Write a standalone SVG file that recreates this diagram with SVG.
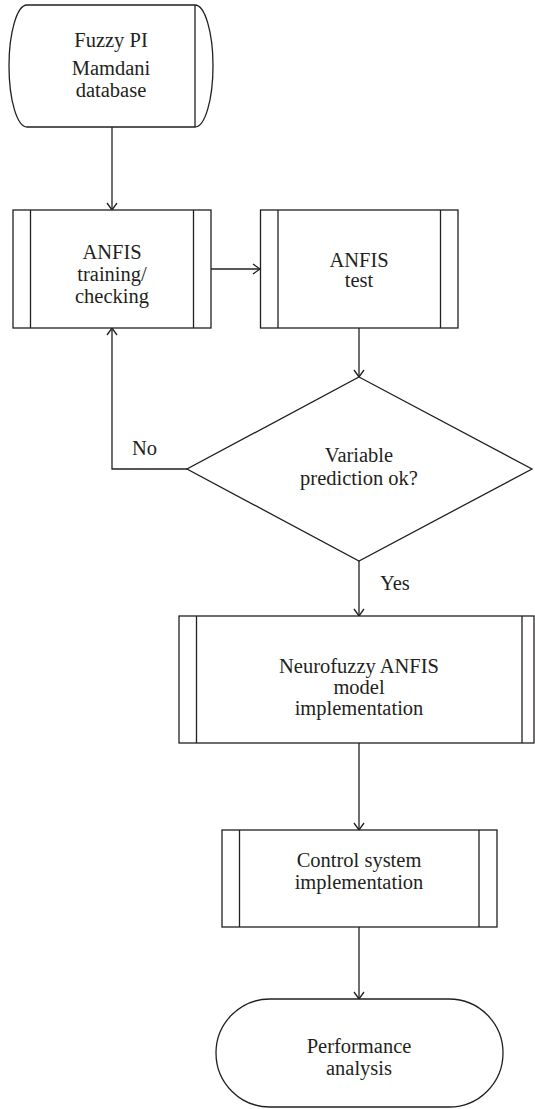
<svg xmlns="http://www.w3.org/2000/svg" width="535" height="1109" viewBox="0 0 535 1109">
<defs>
<style>
.s{fill:#fff;stroke:#231f20;stroke-width:1.3}
.l{fill:none;stroke:#231f20;stroke-width:1.3}
.t{font-family:"Liberation Serif","Times New Roman",serif;font-size:20.5px;fill:#231f20;text-anchor:middle}
.lb{font-family:"Liberation Serif","Times New Roman",serif;font-size:20.5px;fill:#231f20}
</style>
<marker id="arr" viewBox="0 0 10 12" refX="9" refY="6" markerWidth="10" markerHeight="12" markerUnits="userSpaceOnUse" orient="auto">
<path d="M2,1 L9,6 L2,11" fill="none" stroke="#231f20" stroke-width="1.3"/>
</marker>
</defs>
<rect width="535" height="1109" fill="#fff"/>
<g id="connectors">
<line class="l" x1="112" y1="127" x2="112" y2="210" marker-end="url(#arr)"/>
<line class="l" x1="211" y1="269" x2="260" y2="269" marker-end="url(#arr)"/>
<line class="l" x1="359" y1="328" x2="359" y2="377" marker-end="url(#arr)"/>
<polyline class="l" points="187,469 112,469 112,328" marker-end="url(#arr)"/>
<text class="lb" x="132" y="455">No</text>
<line class="l" x1="359" y1="561" x2="359" y2="616" marker-end="url(#arr)"/>
<text class="lb" x="380" y="590">Yes</text>
<line class="l" x1="359" y1="743" x2="359" y2="830" marker-end="url(#arr)"/>
<line class="l" x1="359" y1="927" x2="359" y2="999" marker-end="url(#arr)"/>
</g>
<g id="database">
<path class="s" d="M27,5 L195,5 A18,61 0 0 1 195,127 L27,127 A18,61 0 0 1 27,5 Z"/>
<line class="l" x1="195" y1="5" x2="195" y2="127"/>
<text class="t" x="111" y="47">Fuzzy PI</text>
<text class="t" x="111" y="75">Mamdani</text>
<text class="t" x="111" y="97">database</text>
</g>
<g id="training">
<rect class="s" x="13" y="210" width="198" height="118"/>
<line class="l" x1="30.5" y1="210" x2="30.5" y2="328"/>
<line class="l" x1="193.5" y1="210" x2="193.5" y2="328"/>
<text class="t" x="112" y="259">ANFIS</text>
<text class="t" x="112" y="281">training/</text>
<text class="t" x="112" y="303">checking</text>
</g>
<g id="test">
<rect class="s" x="260.5" y="210" width="197.5" height="118"/>
<line class="l" x1="278" y1="210" x2="278" y2="328"/>
<line class="l" x1="440.5" y1="210" x2="440.5" y2="328"/>
<text class="t" x="359" y="267">ANFIS</text>
<text class="t" x="359" y="287">test</text>
</g>
<g id="decision">
<polygon class="s" points="359,377 532,469 359,561 187,469"/>
<text class="t" x="359" y="462">Variable</text>
<text class="t" x="359" y="485">prediction ok?</text>
</g>
<g id="neurofuzzy">
<rect class="s" x="179" y="616" width="355" height="127"/>
<line class="l" x1="196.5" y1="616" x2="196.5" y2="743"/>
<line class="l" x1="522" y1="616" x2="522" y2="743"/>
<text class="t" x="359" y="673">Neurofuzzy ANFIS</text>
<text class="t" x="359" y="694">model</text>
<text class="t" x="359" y="715">implementation</text>
</g>
<g id="control">
<rect class="s" x="222" y="830" width="275" height="97"/>
<line class="l" x1="239.5" y1="830" x2="239.5" y2="927"/>
<line class="l" x1="479" y1="830" x2="479" y2="927"/>
<text class="t" x="359" y="867">Control system</text>
<text class="t" x="359" y="889">implementation</text>
</g>
<g id="performance">
<rect class="s" x="216" y="999" width="287" height="108" rx="54" ry="54"/>
<text class="t" x="359" y="1053">Performance</text>
<text class="t" x="359" y="1075">analysis</text>
</g>
</svg>
